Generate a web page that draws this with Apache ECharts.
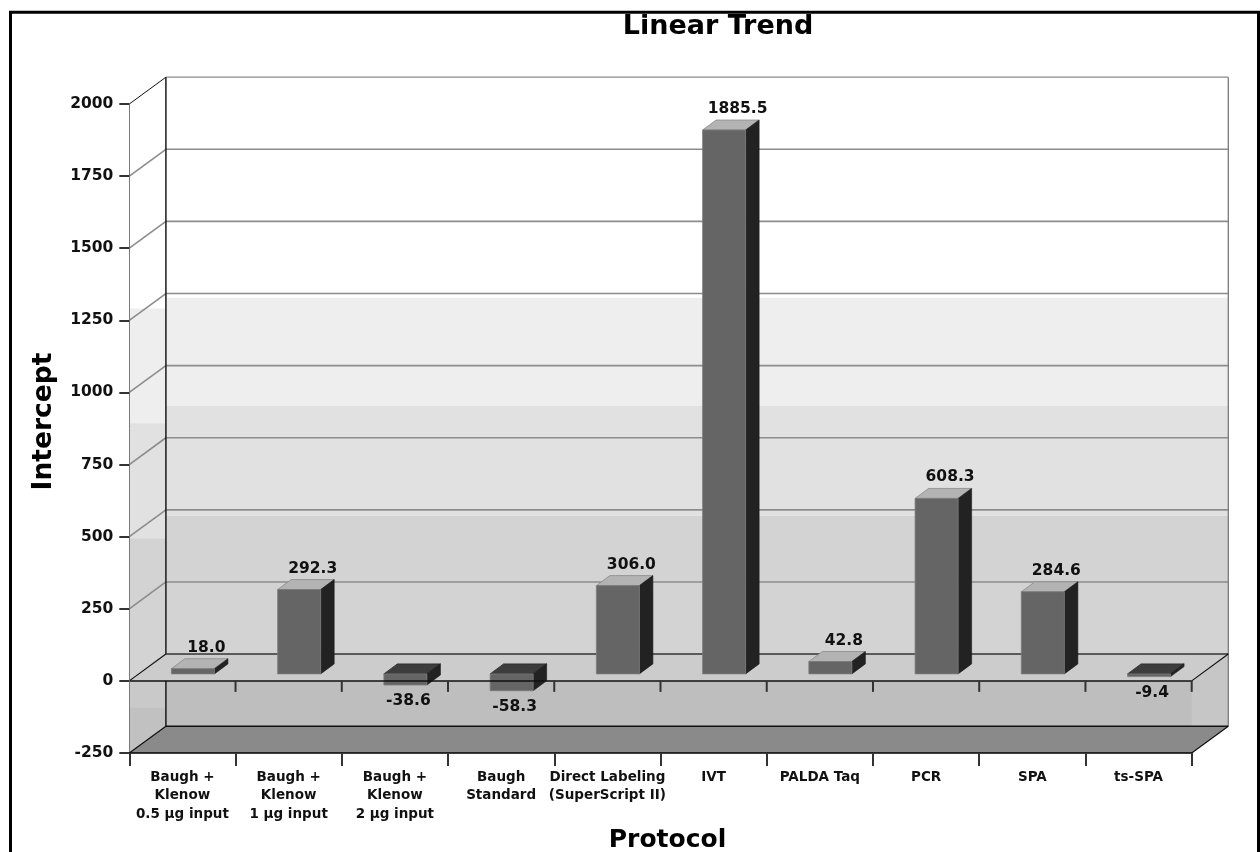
<!DOCTYPE html>
<html>
<head>
<meta charset="utf-8">
<title>Linear Trend</title>
<script src="https://cdn.jsdelivr.net/npm/echarts@6/dist/echarts.min.js"></script>
<style>
  html, body { margin: 0; padding: 0; background: #ffffff; }
  #chart { width: 1260px; height: 852px; }
</style>
</head>
<body>
<div id="chart"></div>
<script>
// ---- data ----
const categories = [
  'Baugh +\nKlenow\n0.5 µg input',
  'Baugh +\nKlenow\n1 µg input',
  'Baugh +\nKlenow\n2 µg input',
  'Baugh\nStandard',
  'Direct Labeling\n(SuperScript II)',
  'IVT',
  'PALDA Taq',
  'PCR',
  'SPA',
  'ts-SPA'
];
const intercepts = [18.0, 292.3, -38.6, -58.3, 306.0, 1885.5, 42.8, 608.3, 284.6, -9.4];
const yTicks = [-250, 0, 250, 500, 750, 1000, 1250, 1500, 1750, 2000];

// ---- styling ----
const FONT = 'DejaVu Sans';
const Y_MIN = yTicks[0];
const Y_MAX = yTicks[yTicks.length - 1];
const Y_STEP = yTicks[1] - yTicks[0];
const DX = 36.6, DY = -26.8;          // full depth of the box (px)
const BAR_FRONT = [10.5, -7];         // bar front face offset from front plane
const BAR_DEPTH = [13.5, -10];        // bar thickness in depth
const BAR_RATIO = 0.405;              // bar width relative to category band

// wall shading steps, value ranges on the back wall
const BACK_SHADES = [
  [Y_MAX, 1235, '#ffffff'],
  [1235, 860, '#eeeeee'],
  [860, 480, '#e1e1e1'],
  [480, 0, '#d3d3d3'],
  [0, Y_MIN, '#c6c6c6']
];

const poly = (pts, fill, stroke, lw) => ({
  type: 'polygon', shape: { points: pts },
  style: { fill: fill, stroke: stroke || null, lineWidth: lw || 0 }
});
const seg = (x1, y1, x2, y2, stroke, lw) => ({
  type: 'line', shape: { x1, y1, x2, y2 },
  style: { stroke: stroke, lineWidth: lw, fill: null }
});

// walls, floor, zero plane and back gridlines
function renderScene(params, api) {
  const cs = params.coordSys;
  const L = cs.x, R = cs.x + cs.width;
  const yv = v => api.coord([0, v])[1];
  const yT = yv(Y_MAX), yB = yv(Y_MIN), y0 = yv(0);
  const kids = [];

  // back wall
  BACK_SHADES.forEach(([a, b, c]) => {
    kids.push({ type: 'rect', shape: { x: L + DX, y: yv(a) + DY, width: R - L, height: yv(b) - yv(a) }, style: { fill: c } });
  });
  kids.push({ type: 'rect', shape: { x: L + DX, y: y0, width: R - L - DX, height: yB + DY - y0 }, style: { fill: '#bebebe' } });

  // left side wall
  const sy = v => yv(v) + DY / 2;
  kids.push(poly([[L, yT], [L + DX, yT + DY], [L + DX, yB + DY], [L, yB]], '#ffffff'));
  kids.push({ type: 'rect', shape: { x: L, y: sy(1245), width: DX, height: sy(847) - sy(1245) }, style: { fill: '#eeeeee' } });
  kids.push({ type: 'rect', shape: { x: L, y: sy(847), width: DX, height: sy(448) - sy(847) }, style: { fill: '#e1e1e1' } });
  kids.push(poly([[L, sy(448)], [L + DX, sy(448)], [L + DX, y0 + DY], [L, y0]], '#d3d3d3'));
  kids.push(poly([[L, y0], [L + DX, y0 + DY], [L + DX, yB + DY], [L, yB]], '#c9c9c9'));
  kids.push(poly([[L, sy(-140)], [L + DX, sy(-140)], [L + DX, yB + DY], [L, yB]], '#c1c1c1'));

  // gridlines on back wall and side wall
  yTicks.forEach(v => {
    if (v === Y_MIN || v === 0) return;
    const y = yv(v);
    kids.push(seg(L + DX, y + DY, R + DX, y + DY, '#8c8c8c', v === Y_MAX ? 1.2 : 1.6));
    kids.push(seg(L, y, L + DX, y + DY, v === Y_MAX ? '#111111' : '#8c8c8c', v === Y_MAX ? 1 : 1.6));
  });

  // wall edges
  kids.push(seg(L + DX, yT + DY, L + DX, yB + DY, '#1a1a1a', 1.5));
  kids.push(seg(R + DX, yT + DY, R + DX, yB + DY, '#7a7a7a', 1.3));

  // zero plane
  kids.push(poly([[L, y0], [L + DX, y0 + DY], [R + DX, y0 + DY], [R, y0]], '#cccccc'));
  kids.push(seg(L + DX, y0 + DY, R + DX, y0 + DY, '#333333', 1.5));
  kids.push(seg(L, y0, L + DX, y0 + DY, '#111111', 1.2));
  kids.push(seg(R, y0, R + DX, y0 + DY, '#111111', 1.2));

  // floor
  kids.push(poly([[L, yB], [L + DX, yB + DY], [R + DX, yB + DY], [R, yB]], '#8a8a8a'));
  kids.push(seg(L + DX, yB + DY, R + DX, yB + DY, '#111111', 1.5));
  kids.push(seg(L, yB, L + DX, yB + DY, '#111111', 1.2));
  kids.push(seg(R, yB, R + DX, yB + DY, '#111111', 1.2));

  return { type: 'group', children: kids };
}

// 3D boxes with value labels
function renderBar(params, api) {
  const i = api.value(0), v = api.value(1);
  const base = api.coord([i, 0]);
  const tip = api.coord([i, v]);
  const bw = api.size([1, 0])[0];
  const w = bw * BAR_RATIO;
  const x0 = base[0] - w / 2 + BAR_FRONT[0];
  const x1 = x0 + w;
  const yTop = Math.min(base[1], tip[1]) + BAR_FRONT[1];
  const yBot = Math.max(base[1], tip[1]) + BAR_FRONT[1];
  const [dx, dy] = BAR_DEPTH;
  const neg = v < 0;
  const kids = [
    poly([[x0, yTop], [x0 + dx, yTop + dy], [x1 + dx, yTop + dy], [x1, yTop]],
         neg ? '#3d3d3d' : '#b3b3b3', neg ? '#2a2a2a' : '#8a8a8a', 0.8),
    poly([[x1, yTop], [x1 + dx, yTop + dy], [x1 + dx, yBot + dy], [x1, yBot]], '#222222', '#1a1a1a', 0.6),
    { type: 'rect', shape: { x: x0, y: yTop, width: w, height: yBot - yTop },
      style: { fill: '#656565', stroke: '#7c7c7c', lineWidth: 0.8 } }
  ];
  kids.push({
    type: 'text',
    x: neg ? x0 + w / 2 + 3 : x0 + w / 2 + dx,
    y: neg ? yBot + 16 : yTop + dy - 11,
    style: {
      text: v.toFixed(1), fill: '#111111',
      fontFamily: FONT, fontWeight: 'bold', fontSize: 15.5,
      align: 'center', verticalAlign: 'middle'
    }
  });
  return { type: 'group', children: kids };
}

// front zero line and its ticks, drawn over the boxes
function renderFront(params, api) {
  const cs = params.coordSys;
  const L = cs.x, R = cs.x + cs.width;
  const y0 = api.coord([0, 0])[1];
  const bw = api.size([1, 0])[0];
  const kids = [seg(L, y0, R, y0, '#111111', 1.5)];
  for (let k = 1; k <= categories.length; k++) {
    const x = L + k * bw;
    kids.push(seg(x, y0, x, y0 + 11, '#333333', 2));
  }
  return { type: 'group', children: kids };
}

const chart = echarts.init(document.getElementById('chart'));
chart.setOption({
  animation: false,
  backgroundColor: '#ffffff',
  grid: {
    left: 129.3, right: 68.3, top: 104, bottom: 99,
    containLabel: false, outerBoundsMode: 'none'
  },
  graphic: [
    {
      type: 'rect', z: 100,
      shape: { x: 10.5, y: 12.3, width: 1248, height: 900 },
      style: { fill: null, stroke: '#000000', lineWidth: 3 }
    },
    {
      type: 'text', z: 100, x: 718, y: 27,
      style: {
        text: 'Linear Trend', fill: '#000000',
        fontFamily: FONT, fontWeight: 'bold', fontSize: 27,
        align: 'center', verticalAlign: 'middle'
      }
    }
  ],
  xAxis: {
    type: 'category',
    data: categories,
    z: 10,
    name: 'Protocol',
    nameLocation: 'middle',
    nameGap: 70,
    nameTextStyle: { fontFamily: FONT, fontWeight: 'bold', fontSize: 25, color: '#000000', padding: [0, 0, 0, 14] },
    axisLine: { onZero: false, lineStyle: { color: '#000000', width: 1.5 } },
    axisTick: { show: true, length: 13, lineStyle: { color: '#333333', width: 2 } },
    axisLabel: {
      interval: 0, margin: 15, lineHeight: 18.5,
      fontFamily: FONT, fontWeight: 'bold', fontSize: 13.5, color: '#111111'
    },
    splitLine: { show: false }
  },
  yAxis: {
    type: 'value',
    min: Y_MIN, max: Y_MAX, interval: Y_STEP,
    z: 10,
    name: 'Intercept',
    nameLocation: 'middle',
    nameGap: 72,
    nameRotate: 90,
    nameTextStyle: { fontFamily: FONT, fontWeight: 'bold', fontSize: 26.5, color: '#000000', padding: [0, 0, 0, 14] },
    axisLine: { show: true, lineStyle: { color: '#7a7a7a', width: 1 } },
    axisTick: { show: true, length: 10, lineStyle: { color: '#333333', width: 2 } },
    axisLabel: {
      margin: 16, fontFamily: FONT, fontWeight: 'bold', fontSize: 15.5, color: '#111111',
      formatter: v => String(v)
    },
    splitLine: { show: false }
  },
  series: [
    { type: 'custom', name: 'scene', z: 1, silent: true, clip: false,
      renderItem: renderScene, data: [[0, 0]] },
    { type: 'custom', name: 'Intercept', z: 2, silent: true, clip: false,
      renderItem: renderBar, data: intercepts.map((v, i) => [i, v]) },
    { type: 'custom', name: 'front', z: 3, silent: true, clip: false,
      renderItem: renderFront, data: [[0, 0]] }
  ]
});
</script>
</body>
</html>
